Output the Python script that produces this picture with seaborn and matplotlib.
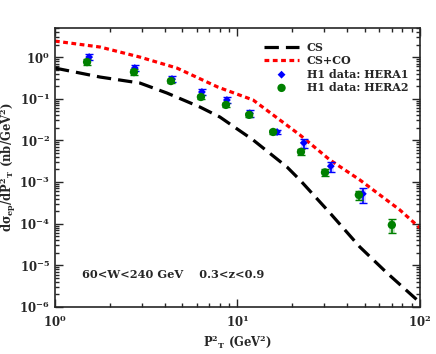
import matplotlib
matplotlib.use("Agg")
import matplotlib.pyplot as plt
import seaborn as sns
import numpy as np

### J/psi photoproduction at HERA: CS and CS+CO vs H1 data

# theory curves
cs_pt2 = [1.0, 1.77, 2.92, 4.11, 6.24, 8.02, 12.2, 18.7, 22.0, 32.1, 46.9, 65.9, 96.4, 100.0]
cs_val = [0.545, 0.331, 0.238, 0.137, 0.063, 0.0363, 0.0102, 0.00229, 0.00112,
          1.82e-4, 2.75e-5, 6.6e-6, 1.48e-6, 1.3e-6]
csco_pt2 = [1.0, 1.77, 2.92, 4.66, 7.82, 12.2, 22.0, 32.1, 46.9, 77.6, 100.0]
csco_val = [2.42, 1.74, 1.0, 0.545, 0.19, 0.093, 0.0135, 0.0034, 0.00112, 2.14e-4, 7.9e-5]

# H1 data
hera1_pt2 = [1.54, 2.74, 4.38, 6.39, 8.76, 11.7, 16.5, 23.1, 32.5, 48.7]
hera1_val = [1.0, 0.545, 0.297, 0.145, 0.093, 0.045, 0.0159, 0.0087, 0.0024, 5.2e-4]
hera1_err = [0.17, 0.09, 0.05, 0.025, 0.016, 0.008, 0.002, 0.002, 0.0007, 0.0002]

hera2_pt2 = [1.50, 2.71, 4.32, 6.31, 8.65, 11.6, 15.7, 22.3, 30.2, 46.3, 70.2]
hera2_val = [0.76, 0.437, 0.266, 0.11, 0.071, 0.041, 0.0159, 0.0053, 0.0017, 4.9e-4, 9.3e-5]
hera2_err = [0.12, 0.07, 0.03, 0.013, 0.008, 0.005, 0.0018, 0.0009, 0.0003, 0.00013, 3.5e-5]

sns.set_style("ticks")
plt.rcParams['font.family'] = ['DejaVu Serif']
plt.rcParams['font.weight'] = 'bold'
plt.rcParams['mathtext.fontset'] = 'dejavuserif'
plt.rcParams['mathtext.default'] = 'bf'
plt.rcParams['axes.labelweight'] = 'bold'

fig = plt.figure(figsize=(4.36, 3.54), dpi=100)
ax = fig.add_axes([0.126, 0.133, 0.837, 0.788])

sns.lineplot(x=cs_pt2, y=cs_val, ax=ax, color='black', lw=2.3, label='CS',
             estimator=None, sort=False)
ax.lines[-1].set_dashes((4.5, 2.2))
sns.lineplot(x=csco_pt2, y=csco_val, ax=ax, color='red', lw=2.3, label='CS+CO',
             estimator=None, sort=False)
ax.lines[-1].set_dashes((1.5, 1.1))

# light error boxes behind the points
ax.errorbar(hera1_pt2, hera1_val, yerr=hera1_err, fmt='none', ecolor='#7070ff',
            elinewidth=4, alpha=0.35, capsize=0)
ax.errorbar(hera2_pt2, hera2_val, yerr=hera2_err, fmt='none', ecolor='#40a040',
            elinewidth=4, alpha=0.35, capsize=0)
ax.errorbar(hera1_pt2, hera1_val, yerr=hera1_err, fmt='none', ecolor='blue',
            elinewidth=1.2, capsize=3)
ax.errorbar(hera2_pt2, hera2_val, yerr=hera2_err, fmt='none', ecolor='green',
            elinewidth=1.2, capsize=3)
sns.scatterplot(x=hera1_pt2, y=hera1_val, ax=ax, marker='D', color='blue', s=16,
                edgecolor='none', label='H1 data: HERA1', zorder=5)
sns.scatterplot(x=hera2_pt2, y=hera2_val, ax=ax, marker='o', color='green', s=36,
                edgecolor='none', label='H1 data: HERA2', zorder=5)

ax.set_xscale('log')
ax.set_yscale('log')
ax.set_xlim(1, 100)
ax.set_ylim(1e-6, 5)
ax.tick_params(which='both', direction='in', top=True, right=True, labelsize=8.5)
ax.tick_params(which='major', length=6, width=1)
ax.tick_params(which='minor', length=3, width=1)
ax.tick_params(axis='x', which='major', pad=5)
for sp in ax.spines.values():
    sp.set_linewidth(1.2)

ax.set_xlabel(r'P$^{2}{}_{\rm T}$ (GeV$^{2}$)', fontsize=8.3)
ax.set_ylabel(r'd$\sigma_{ep}$/dP$^{2}{}_{\rm T}$ (nb/GeV$^{2}$)', fontsize=8.3)
ax.xaxis.set_label_coords(0.5, -0.095)
ax.yaxis.set_label_coords(-0.1, 0.5)
ax.text(0.074, 0.115, '60<W<240 GeV    0.3<z<0.9', transform=ax.transAxes,
        fontsize=8.2, va='center')

ax.legend(loc='upper right', frameon=False, fontsize=8, handlelength=3.1,
          handletextpad=0.7, labelspacing=0.2, bbox_to_anchor=(0.995, 0.985))

plt.savefig('out.png', dpi=100)
plt.close()
